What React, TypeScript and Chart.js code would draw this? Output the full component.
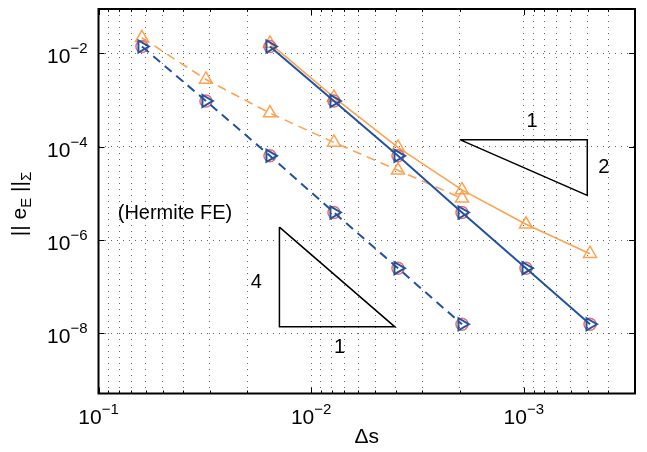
import React, { useEffect, useRef } from 'react';
import { Chart, registerables } from 'chart.js';

Chart.register(...registerables);

// ---- data ----
const dsCoarse = [1 / 16, 1 / 32, 1 / 64, 1 / 128, 1 / 256, 1 / 512];
const dsFine = [1 / 64, 1 / 128, 1 / 256, 1 / 512, 1 / 1024, 1 / 2048];

const errBlueSolid = [1.41e-2, 9.6e-4, 6.4e-5, 3.9e-6, 2.5e-7, 1.57e-8];
const errBlueDashed = [1.41e-2, 9.6e-4, 6.4e-5, 3.9e-6, 2.5e-7, 1.57e-8];
const errOrangeSolid = [1.64e-2, 1.14e-3, 9.7e-5, 1.19e-5, 2.18e-6, 5.1e-7];
const errOrangeDashed = [2.17e-2, 2.77e-3, 5.27e-4, 1.24e-4, 3.13e-5, 7.85e-6];

// slope triangles
const tri4X = [0.0141, 0.0141, 0.00404, 0.0141];
const tri4Y = [1.9e-6, 1.38e-8, 1.38e-8, 1.9e-6];
const tri2X = [2.0e-3, 5.03e-4, 5.03e-4, 2.0e-3];
const tri2Y = [1.42e-4, 1.42e-4, 9.1e-6, 1.42e-4];

// ticks
const xGridValues = [
  3e-4, 4e-4, 5e-4, 6e-4, 7e-4, 8e-4, 9e-4,
  1e-3, 2e-3, 3e-3, 4e-3, 5e-3, 6e-3, 7e-3, 8e-3, 9e-3,
  1e-2, 2e-2, 3e-2, 4e-2, 5e-2, 6e-2, 7e-2, 8e-2, 9e-2, 1e-1,
];
const xMajorValues = [1e-1, 1e-2, 1e-3];
const xMajorExponents = ['−1', '−2', '−3'];
const yMajorValues = [1e-2, 1e-4, 1e-6, 1e-8];
const yMajorExponents = ['−2', '−4', '−6', '−8'];

const X_MIN = 3e-4;
const X_MAX = 0.1;
const Y_MIN = 5.15e-10;
const Y_MAX = 0.0897;

const annotations = [
  { text: '(Hermite FE)', x: 0.0812, y: 3.75e-6, align: 'left' },
  { text: '4', x: 0.0181, y: 1.25e-7, align: 'center' },
  { text: '1', x: 7.36e-3, y: 5.06e-9, align: 'center' },
  { text: '1', x: 9.14e-4, y: 3.5e-4, align: 'center' },
  { text: '2', x: 4.2e-4, y: 3.62e-5, align: 'center' },
];

const FONT = '"Liberation Sans", Arial, Helvetica, sans-serif';
const BLUE = '#2152a3';
const ORANGE = '#ffa24f';
const RED = '#ec6b6b';

const zip = (xs: number[], ys: number[]) => xs.map((x, i) => ({ x, y: ys[i] }));

const isMajor = (v: number) => xMajorValues.some((m) => Math.abs(Math.log10(v) - Math.log10(m)) < 1e-6);

function drawPow(ctx: CanvasRenderingContext2D, exp: string, ax: number, baseline: number, align: 'right' | 'center') {
  ctx.font = `21px ${FONT}`;
  const w1 = ctx.measureText('10').width;
  ctx.font = `15px ${FONT}`;
  const w2 = ctx.measureText(exp).width;
  const start = align === 'right' ? ax - w1 - w2 : ax - (w1 + w2) / 2;
  ctx.textAlign = 'left';
  ctx.textBaseline = 'alphabetic';
  ctx.font = `21px ${FONT}`;
  ctx.fillText('10', start, baseline);
  ctx.font = `15px ${FONT}`;
  ctx.fillText(exp, start + w1, baseline - 10);
}

const overlayPlugin = {
  id: 'overlay',
  afterDraw(chart: any) {
    const { ctx, chartArea: a, scales } = chart;
    const xs = scales.x;
    const ys = scales.y;
    ctx.save();
    // tick marks (inside)
    ctx.strokeStyle = '#000';
    ctx.lineWidth = 1;
    ctx.beginPath();
    yMajorValues.forEach((v) => {
      const py = Math.round(ys.getPixelForValue(v)) + 0.5;
      ctx.moveTo(a.left, py);
      ctx.lineTo(a.left + 6, py);
      ctx.moveTo(a.right, py);
      ctx.lineTo(a.right - 6, py);
    });
    xGridValues.forEach((v) => {
      const px = Math.round(xs.getPixelForValue(v)) + 0.5;
      const len = isMajor(v) ? 6 : 3;
      ctx.moveTo(px, a.bottom);
      ctx.lineTo(px, a.bottom - len);
      ctx.moveTo(px, a.top);
      ctx.lineTo(px, a.top + len);
    });
    ctx.stroke();
    // frame
    ctx.lineWidth = 2;
    ctx.strokeRect(a.left, a.top, a.right - a.left, a.bottom - a.top);

    ctx.fillStyle = '#000';
    // tick labels with superscripts
    yMajorValues.forEach((v, i) => {
      drawPow(ctx, yMajorExponents[i], a.left - 11, ys.getPixelForValue(v) + 10, 'right');
    });
    xMajorValues.forEach((v, i) => {
      drawPow(ctx, xMajorExponents[i], xs.getPixelForValue(v), a.bottom + 30, 'center');
    });

    // annotations
    ctx.font = `20px ${FONT}`;
    ctx.textBaseline = 'middle';
    annotations.forEach((t) => {
      ctx.textAlign = t.align as CanvasTextAlign;
      ctx.fillText(t.text, xs.getPixelForValue(t.x), ys.getPixelForValue(t.y));
    });

    // y axis title: || e_E ||_Σ
    const parts = [
      { t: '|| e', size: 21, dy: 0 },
      { t: 'E', size: 15, dy: 5 },
      { t: ' ||', size: 21, dy: 0 },
      { t: 'Σ', size: 15, dy: 5 },
    ];
    ctx.translate(26, 204);
    ctx.rotate(-Math.PI / 2);
    ctx.textAlign = 'left';
    ctx.textBaseline = 'alphabetic';
    let total = 0;
    const widths = parts.map((p) => {
      ctx.font = `${p.size}px ${FONT}`;
      const w = ctx.measureText(p.t).width;
      total += w;
      return w;
    });
    let cx = -total / 2;
    parts.forEach((p, i) => {
      ctx.font = `${p.size}px ${FONT}`;
      ctx.fillText(p.t, cx, p.dy);
      cx += widths[i];
    });
    ctx.restore();
  },
};

export default function App() {
  const ref = useRef<HTMLCanvasElement | null>(null);

  useEffect(() => {
    if (!ref.current) return;
    const markerBlue = {
      pointStyle: 'triangle',
      rotation: 90,
      pointRadius: 7,
      pointHoverRadius: 7,
      pointBorderWidth: 2,
      pointBorderColor: BLUE,
      pointBackgroundColor: 'rgba(0,0,0,0)',
    };
    const markerOrange = {
      pointStyle: 'triangle',
      rotation: 0,
      pointRadius: 7.5,
      pointHoverRadius: 7.5,
      pointBorderWidth: 1.5,
      pointBorderColor: ORANGE,
      pointBackgroundColor: 'rgba(0,0,0,0)',
    };
    const markerRed = {
      pointStyle: 'circle',
      pointRadius: 6,
      pointHoverRadius: 6,
      pointBorderWidth: 1.5,
      pointBorderColor: RED,
      pointBackgroundColor: 'rgba(0,0,0,0)',
      showLine: false,
    };
    const chart = new Chart(ref.current, {
      type: 'scatter',
      data: {
        datasets: [
          {
            label: 'slope 4',
            data: zip(tri4X, tri4Y),
            showLine: true,
            borderColor: '#000',
            borderWidth: 1.5,
            pointRadius: 0,
            order: 1,
          },
          {
            label: 'slope 2',
            data: zip(tri2X, tri2Y),
            showLine: true,
            borderColor: '#000',
            borderWidth: 1.5,
            pointRadius: 0,
            order: 1,
          },
          {
            label: 'orange solid',
            data: zip(dsFine, errOrangeSolid),
            showLine: true,
            borderColor: ORANGE,
            borderWidth: 1.6,
            ...markerOrange,
            order: 4,
          },
          {
            label: 'orange dashed',
            data: zip(dsCoarse, errOrangeDashed),
            showLine: true,
            borderColor: ORANGE,
            borderWidth: 1.6,
            borderDash: [9, 6],
            ...markerOrange,
            order: 4,
          },
          {
            label: 'red fine',
            data: zip(dsFine, errBlueSolid),
            ...markerRed,
            order: 3,
          },
          {
            label: 'red coarse',
            data: zip(dsCoarse, errBlueDashed),
            ...markerRed,
            order: 3,
          },
          {
            label: 'blue solid',
            data: zip(dsFine, errBlueSolid),
            showLine: true,
            borderColor: BLUE,
            borderWidth: 2,
            ...markerBlue,
            order: 2,
          },
          {
            label: 'blue dashed',
            data: zip(dsCoarse, errBlueDashed),
            showLine: true,
            borderColor: BLUE,
            borderWidth: 2,
            borderDash: [9, 6],
            ...markerBlue,
            order: 2,
          },
        ],
      },
      options: {
        animation: false,
        responsive: false,
        events: [],
        layout: { padding: { left: 0, top: 8.5, right: 12, bottom: 0 } },
        plugins: {
          legend: { display: false },
          tooltip: { enabled: false },
        },
        scales: {
          x: {
            type: 'logarithmic',
            reverse: true,
            min: X_MIN,
            max: X_MAX,
            afterBuildTicks: (scale: any) => {
              scale.ticks = xGridValues.map((v) => ({ value: v }));
            },
            afterFit: (scale: any) => {
              scale.height = 58.5;
              scale.paddingLeft = 0;
              scale.paddingRight = 0;
              scale.paddingTop = 0;
              scale.paddingBottom = 0;
            },
            ticks: { display: false, autoSkip: false },
            grid: {
              drawTicks: false,
              color: 'rgba(0,0,0,0.6)',
              lineWidth: 1,
            },
            border: { display: false, dash: [1, 5] },
            title: {
              display: true,
              text: 'Δs',
              color: '#000',
              font: { family: FONT, size: 21 },
              padding: { top: 0, bottom: 2 },
            },
          },
          y: {
            type: 'logarithmic',
            min: Y_MIN,
            max: Y_MAX,
            afterBuildTicks: (scale: any) => {
              scale.ticks = yMajorValues.map((v) => ({ value: v }));
            },
            afterFit: (scale: any) => {
              scale.width = 98.5;
              scale.paddingLeft = 0;
              scale.paddingRight = 0;
              scale.paddingTop = 0;
              scale.paddingBottom = 0;
            },
            ticks: { display: false, autoSkip: false },
            grid: {
              drawTicks: false,
              color: 'rgba(0,0,0,0.6)',
              lineWidth: 1,
            },
            border: { display: false, dash: [1, 5] },
          },
        },
      },
      plugins: [overlayPlugin],
    } as any);
    return () => chart.destroy();
  }, []);

  return (
    <div style={{ position: 'fixed', left: 0, top: 0, width: 647, height: 452, background: '#fff' }}>
      <canvas ref={ref} width={647} height={452} style={{ display: 'block', width: 647, height: 452 }} />
    </div>
  );
}
